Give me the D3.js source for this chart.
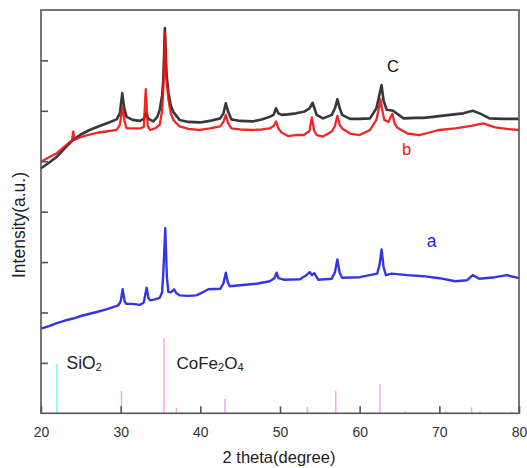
<!DOCTYPE html>
<html>
<head>
<meta charset="utf-8">
<script src="https://cdn.jsdelivr.net/npm/d3@7"></script>
<style>
  body { margin: 0; background: #fff; }
  text { font-family: "Liberation Sans", Arial, sans-serif; }
</style>
</head>
<body>
<svg id="chart" width="527" height="468"></svg>
<script>
// Curve c (black) as [2theta, intensity]
var curve_c = [
  [20,4.86],[21,4.97],[22,5.09],[23,5.26],[24,5.42],[25,5.53],[26.1,5.62],[27.2,5.69],[28.2,5.75],
  [29.5,5.83],[29.9,5.95],[30.2,6.35],[30.45,6.05],[30.75,5.88],[31.5,5.82],[32.4,5.80],[32.9,5.84],
  [33.2,5.95],[33.5,5.84],[34.1,5.79],[34.6,5.88],[34.9,6.02],[35.2,6.3],[35.35,6.61],[35.55,7.64],
  [35.75,6.75],[36.0,6.35],[36.3,6.1],[36.6,5.98],[37.4,5.82],[38.5,5.78],[39.95,5.77],[41.2,5.80],
  [42.5,5.85],[42.9,5.95],[43.2,6.15],[43.5,5.98],[43.9,5.83],[45,5.80],[46.6,5.79],[47.7,5.83],
  [48.7,5.88],[49.2,5.92],[49.5,6.05],[49.8,5.95],[50.2,5.92],[51,5.93],[52,5.95],[53,5.98],
  [53.7,6.05],[54.1,6.16],[54.6,5.92],[55.4,5.85],[56.5,5.92],[56.9,6.05],[57.2,6.23],[57.5,6.05],
  [57.8,5.92],[58.8,5.84],[60,5.84],[61.3,5.85],[62.1,6.05],[62.45,6.3],[62.75,6.51],[63.0,6.2],
  [63.4,6.02],[64.2,6.0],[65.5,5.85],[67,5.86],[68,5.86],[69.2,5.88],[71.3,5.92],[73,5.95],
  [74.2,6.0],[75.2,5.94],[76.3,5.85],[78,5.84],[80,5.84]
]

// Curve b (red)
var curve_b = [
  [20,4.99],[21,5.08],[22,5.16],[23,5.3],[23.9,5.42],[24.05,5.59],[24.2,5.43],[25,5.48],[26.1,5.53],
  [27.2,5.57],[28.2,5.59],[29.5,5.62],[29.9,5.72],[30.25,6.08],[30.5,5.78],[30.75,5.65],[32.4,5.65],
  [32.9,5.68],[33.15,6.43],[33.4,5.7],[33.7,5.62],[34.3,5.65],[34.9,5.72],[35.2,6.0],[35.35,6.41],
  [35.55,7.55],[35.75,6.6],[36.0,6.22],[36.3,5.95],[36.6,5.82],[37.4,5.69],[38.5,5.64],[39.95,5.62],
  [41.2,5.65],[42.5,5.69],[42.9,5.78],[43.2,5.92],[43.5,5.75],[43.9,5.65],[45,5.63],[46.6,5.62],
  [47.7,5.63],[48.7,5.65],[49.2,5.7],[49.5,5.79],[49.8,5.65],[50.2,5.57],[51,5.50],[52,5.52],
  [53,5.52],[53.7,5.6],[54.0,5.87],[54.3,5.6],[54.6,5.52],[55.4,5.49],[56.5,5.59],[56.9,5.7],
  [57.2,5.90],[57.5,5.72],[57.8,5.65],[58.8,5.55],[60,5.52],[61.3,5.62],[62.1,5.82],[62.35,6.0],
  [62.6,6.23],[62.85,6.0],[63.1,5.82],[63.6,5.78],[64.1,5.94],[64.4,5.75],[64.7,5.67],[66,5.55],
  [67.5,5.52],[69,5.58],[70,5.62],[72,5.65],[74,5.70],[75.5,5.75],[77,5.67],[78.5,5.64],[80,5.62]
]

// Curve a (blue)
var curve_a = [
  [20,1.68],[21,1.73],[22,1.79],[23,1.84],[24.05,1.88],[25,1.93],[26,1.97],[27,2.01],[28.2,2.06],
  [29.7,2.14],[30.0,2.22],[30.25,2.46],[30.5,2.22],[30.7,2.17],[31.5,2.17],[32.4,2.15],[32.9,2.2],
  [33.26,2.49],[33.5,2.28],[33.7,2.24],[34.3,2.26],[34.9,2.29],[35.2,2.4],[35.35,2.78],[35.6,3.67],
  [35.8,2.7],[35.98,2.41],[36.3,2.4],[36.7,2.46],[37.0,2.38],[37.4,2.34],[38.5,2.33],[39.5,2.34],
  [40.3,2.4],[41.0,2.46],[42.5,2.47],[42.9,2.58],[43.2,2.79],[43.45,2.6],[43.7,2.52],[45,2.54],
  [47.06,2.57],[48.7,2.62],[49.3,2.68],[49.57,2.79],[49.8,2.68],[50.5,2.65],[52.5,2.66],[53.3,2.74],
  [53.75,2.80],[54.0,2.74],[54.3,2.78],[54.8,2.65],[56.5,2.67],[56.9,2.8],[57.2,3.05],[57.5,2.78],
  [57.8,2.69],[60,2.70],[62.2,2.77],[62.5,2.95],[62.75,3.25],[63.0,2.9],[63.3,2.74],[64,2.77],
  [66,2.74],[68,2.72],[70,2.68],[72,2.62],[73.5,2.64],[74.2,2.74],[75,2.67],[77,2.70],[78.5,2.74],
  [80,2.68]
]

// Standard reference patterns (stick lines)
var sio2_pos = [22]
var sio2_int = [0.98]
var cofe_pos = [30.1, 35.45, 37.0, 43.1, 53.45, 57.0, 62.55, 65.75, 70.9, 74.05, 75.1, 79.05]
var cofe_int = [0.44, 1.49, 0.11, 0.29, 0.13, 0.44, 0.58, 0.04, 0.04, 0.12, 0.04, 0.03]

var x_ticks = [20, 30, 40, 50, 60, 70, 80]
var y_ticks = [1, 2, 3, 4, 5, 6, 7]

var margin = {left: 41, right: 8, top: 10, bottom: 55}
var width = 527, height = 468

var svg = d3.select('#chart')

var x = d3.scaleLinear()
  .domain([20, 80])
  .range([margin.left, width - margin.right])
var y = d3.scaleLinear()
  .domain([0, 8])
  .range([height - margin.bottom + 0.3, margin.top])

var plot = svg.append('g')

// Stick lines
sio2_pos.forEach((p, i) => {
  plot.append('line')
    .attr('x1', x(p)).attr('x2', x(p))
    .attr('y1', y(0)).attr('y2', y(sio2_int[i]))
    .attr('stroke', '#7ff5f5')
    .attr('stroke-width', 1.5)
})
cofe_pos.forEach((p, i) => {
  plot.append('line')
    .attr('x1', x(p)).attr('x2', x(p))
    .attr('y1', y(0)).attr('y2', y(cofe_int[i]))
    .attr('stroke', '#fba6f0')
    .attr('stroke-width', 1.5)
})

var line = d3.line()
  .x(d => x(d[0]))
  .y(d => y(d[1]))

// Curves (the noisy scans read as a thick, slightly soft band)
plot.append('path')
  .datum(curve_c)
  .attr('d', line)
  .attr('fill', 'none')
  .attr('stroke', '#151515')
  .attr('stroke-opacity', 0.85)
  .attr('stroke-width', 2.6)
  .attr('stroke-linejoin', 'round')

plot.append('path')
  .datum(curve_b)
  .attr('d', line)
  .attr('fill', 'none')
  .attr('stroke', '#f01010')
  .attr('stroke-opacity', 0.9)
  .attr('stroke-width', 2.3)
  .attr('stroke-linejoin', 'round')

plot.append('path')
  .datum(curve_a)
  .attr('d', line)
  .attr('fill', 'none')
  .attr('stroke', '#1f1fe6')
  .attr('stroke-opacity', 0.9)
  .attr('stroke-width', 2.4)
  .attr('stroke-linejoin', 'round')

// Frame
svg.append('rect')
  .attr('x', x(20))
  .attr('y', y(8))
  .attr('width', x(80) - x(20))
  .attr('height', y(0) - y(8))
  .attr('fill', 'none')
  .attr('stroke', '#555')
  .attr('stroke-width', 1.6)

// Bottom axis, ticks pointing inward
var x_axis = svg.append('g')
  .attr('transform', 'translate(0,' + y(0) + ')')
  .call(d3.axisBottom(x).tickValues(x_ticks).tickSize(-7).tickPadding(14))
x_axis.select('.domain').remove()
x_axis.selectAll('line').attr('stroke', '#555').attr('stroke-width', 1.6)
x_axis.selectAll('text')
  .attr('fill', '#333')
  .style('font-size', '14px')
  .style('font-family', '"Liberation Sans", Arial, sans-serif')

// Left axis, ticks only
var y_axis = svg.append('g')
  .attr('transform', 'translate(' + x(20) + ',0)')
  .call(d3.axisLeft(y).tickValues(y_ticks).tickSize(-7).tickFormat(''))
y_axis.select('.domain').remove()
y_axis.selectAll('line').attr('stroke', '#555').attr('stroke-width', 1.6)

// Axis titles
svg.append('text')
  .attr('x', 279)
  .attr('y', 463)
  .attr('text-anchor', 'middle')
  .attr('fill', '#222')
  .style('font-size', '16.5px')
  .text('2 theta(degree)')

svg.append('text')
  .attr('transform', 'translate(25,225) rotate(-90)')
  .attr('text-anchor', 'middle')
  .attr('fill', '#222')
  .style('font-size', '17.5px')
  .text('Intensity(a.u.)')

// Curve labels
svg.append('text')
  .attr('x', 393).attr('y', 71.5)
  .attr('text-anchor', 'middle')
  .attr('fill', '#111')
  .style('font-size', '16.5px')
  .text('C')
svg.append('text')
  .attr('x', 406.5).attr('y', 155)
  .attr('text-anchor', 'middle')
  .attr('fill', '#f01010')
  .style('font-size', '16.5px')
  .text('b')
svg.append('text')
  .attr('x', 431.5).attr('y', 247)
  .attr('text-anchor', 'middle')
  .attr('fill', '#1f1fe6')
  .style('font-size', '17.5px')
  .text('a')

// Phase labels with subscripts
var sio2 = svg.append('text')
  .attr('x', 66.5).attr('y', 368.5)
  .attr('fill', '#222')
  .style('font-size', '17.5px')
sio2.append('tspan').text('SiO')
sio2.append('tspan').attr('dy', 2).style('font-size', '11px').text('2')

var cofe = svg.append('text')
  .attr('x', 176.5).attr('y', 368.5)
  .attr('fill', '#222')
  .style('font-size', '17px')
cofe.append('tspan').text('CoFe')
cofe.append('tspan').attr('dy', 2).style('font-size', '11px').text('2')
cofe.append('tspan').attr('dy', -2).text('O')
cofe.append('tspan').attr('dy', 2).style('font-size', '11px').text('4')
</script>
</body>
</html>
